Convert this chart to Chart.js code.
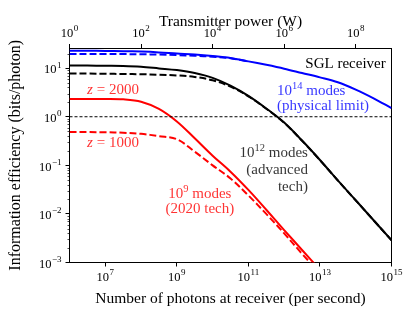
<!DOCTYPE html>
<html>
<head>
<meta charset="utf-8">
<script src="https://cdn.jsdelivr.net/npm/chart.js@4.4.1/dist/chart.umd.min.js"></script>
<style>
  html, body { margin: 0; padding: 0; background: #fff; }
  #wrap { width: 415px; height: 316px; }
</style>
</head>
<body>
<div id="wrap"><canvas id="chart"></canvas></div>
<script>
// photons per second at the receiver (half-decade steps)
const photons = [1e6, 3.16e6, 1e7, 3.16e7, 1e8, 3.16e8, 1e9, 3.16e9, 1e10, 3.16e10,
                 1e11, 3.16e11, 1e12, 3.16e12, 1e13, 3.16e13, 1e14, 3.16e14, 1e15];

// bits per photon
const blueSolid  = [22.9, 22.9, 22.6, 22.4, 21.9, 21.1, 20.0, 19.1, 17.8, 16.2,
                    13.8, 11.7, 9.77, 7.94, 6.46, 5.13, 3.63, 2.40, 1.51];
const blueDashed = [19.5, 19.5, 19.5, 19.5, 19.3, 19.1, 18.6, 18.0, 17.2, 16.0,
                    13.8, null, null, null, null, null, null, null, null];
const blackSolid = [11.3, 11.3, 11.2, 11.1, 10.7, 9.89, 9.12, 7.94, 6.31, 4.37,
                    2.69, 1.48, 0.759, 0.324, 0.129, 0.049, 0.0191, 0.00741, 0.00288];
const blackDashed = [7.73, 7.73, 7.67, 7.59, 7.5, 7.33, 7.08, 6.61, 5.62, 4.17,
                     2.63, 1.46, 0.75, 0.32, 0.128, 0.0488, 0.019, 0.0074, 0.00287];
const redSolid   = [2.32, 2.32, 2.32, 2.28, 2.04, 1.45, 0.8, 0.36, 0.158, 0.074,
                    0.0312, 0.0122, 0.00465, 0.00181, 0.000708, null, null, null, null];
const redDashed  = [0.483, 0.483, 0.479, 0.468, 0.445, 0.398, 0.345, 0.191, 0.1, 0.0537,
                    0.024, 0.01, 0.00398, 0.00151, 0.000603, null, null, null, null];

const unityLine = [1, 1];
const unityX = [1e6, 1e15];

const xTicks = [1e7, 1e9, 1e11, 1e13, 1e15];
const topTicks = [1e0, 1e2, 1e4, 1e6, 1e8];
const yTicks = [1e-3, 1e-2, 1e-1, 1e0, 1e1];

const SERIF = '"Liberation Serif", "DejaVu Serif", serif';
const RED = 'rgba(255,0,0,0.8)';
const BLUE = 'rgba(0,0,255,0.8)';
const DARK = 'rgba(0,0,0,0.8)';

function pts(values) {
  return photons.map((p, i) => ({ x: p, y: values[i] })).filter(d => d.y !== null);
}

// text notes inside the plot, positioned in data coordinates
const notes = [
  { x: 6.9e14, y: 11.9, align: 'right', color: '#000', parts: [['SGL receiver']] },
  { x: 6.3e11, y: 3.33, align: 'left', color: BLUE, parts: [['10'], ['14', 'sup'], [' modes']] },
  { x: 6.3e11, y: 1.63, align: 'left', color: BLUE, parts: [['(physical limit)']] },
  { x: 3.1e6, y: 3.61, align: 'left', color: RED, parts: [['z', 'it'], [' = 2000']] },
  { x: 3.1e6, y: 0.29, align: 'left', color: RED, parts: [['z', 'it'], [' = 1000']] },
  { x: 4.6e12, y: 0.18, align: 'right', color: DARK, parts: [['10'], ['12', 'sup'], [' modes']] },
  { x: 4.6e12, y: 0.080, align: 'right', color: DARK, parts: [['(advanced']] },
  { x: 4.6e12, y: 0.0358, align: 'right', color: DARK, parts: [['tech)']] },
  { x: 4.4e9, y: 0.0257, align: 'center', color: RED, parts: [['10'], ['9', 'sup'], [' modes']] },
  { x: 4.4e9, y: 0.0126, align: 'center', color: RED, parts: [['(2020 tech)']] },
];

function partFont(kind) {
  if (kind === 'sup') return '10.5px ' + SERIF;
  if (kind === 'it') return 'italic 15px ' + SERIF;
  return '15px ' + SERIF;
}

const notesPlugin = {
  id: 'notes',
  afterDatasetsDraw(chart) {
    const { ctx, scales } = chart;
    ctx.save();
    ctx.textBaseline = 'middle';
    ctx.textAlign = 'left';
    notes.forEach(n => {
      let w = 0;
      n.parts.forEach(p => { ctx.font = partFont(p[1]); w += ctx.measureText(p[0]).width; });
      let px = scales.x.getPixelForValue(n.x);
      const py = scales.y.getPixelForValue(n.y);
      if (n.align === 'right') px -= w;
      if (n.align === 'center') px -= w / 2;
      ctx.fillStyle = n.color;
      n.parts.forEach(p => {
        ctx.font = partFont(p[1]);
        ctx.fillText(p[0], px, p[1] === 'sup' ? py - 5 : py);
        px += ctx.measureText(p[0]).width;
      });
    });
    ctx.restore();
  }
};

// "10" with a raised exponent, like the original tick labels
const BASE_FONT = '12.5px ' + SERIF;
const EXP_FONT = '9px ' + SERIF;
function drawPow(ctx, v, x, y, align) {
  const e = String(Math.round(Math.log10(v))).replace('-', '\u2212');
  ctx.font = BASE_FONT;
  const wb = ctx.measureText('10').width;
  ctx.font = EXP_FONT;
  const we = ctx.measureText(e).width + 0.5;
  let left = x;
  if (align === 'center') left = x - (wb + we) / 2;
  if (align === 'right') left = x - (wb + we);
  ctx.font = BASE_FONT;
  ctx.fillText('10', left, y);
  ctx.font = EXP_FONT;
  ctx.fillText(e, left + wb + 0.5, y - 5);
}

const tickLabelPlugin = {
  id: 'tickLabels',
  afterDraw(chart) {
    const { ctx, chartArea, scales } = chart;
    ctx.save();
    ctx.fillStyle = '#000';
    ctx.textBaseline = 'middle';
    ctx.textAlign = 'left';
    xTicks.forEach(v => drawPow(ctx, v, scales.x.getPixelForValue(v), chartArea.bottom + 15, 'center'));
    topTicks.forEach(v => drawPow(ctx, v, scales.x2.getPixelForValue(v), chartArea.top - 14, 'center'));
    yTicks.forEach(v => drawPow(ctx, v, chartArea.left - 8, scales.y.getPixelForValue(v) + 2, 'right'));

    // minor ticks on the y axis
    ctx.strokeStyle = '#000';
    ctx.lineWidth = 0.7;
    const y = scales.y;
    for (let e = -3; e <= 1; e++) {
      for (let m = 2; m <= 9; m++) {
        const v = m * Math.pow(10, e);
        if (v > y.max) continue;
        const py = Math.round(y.getPixelForValue(v)) + 0.5;
        ctx.beginPath();
        ctx.moveTo(chartArea.left, py);
        ctx.lineTo(chartArea.left - 2, py);
        ctx.stroke();
      }
    }
    ctx.restore();
  }
};

const titleFont = { family: SERIF, size: 15.5 };
const axisGrid = { display: true, drawOnChartArea: false, drawTicks: true, tickLength: 4, color: '#000' };
const axisBorder = { display: true, color: '#000', width: 1 };
const hiddenLabels = { callback: () => '', autoSkip: false, maxRotation: 0 };

new Chart(document.getElementById('chart'), {
  type: 'line',
  data: {
    datasets: [
      { data: unityX.map((x, i) => ({ x, y: unityLine[i] })), borderColor: '#000', borderWidth: 1, borderDash: [3, 2], tension: 0 },
      { data: pts(blueSolid), borderColor: '#0000ff', borderWidth: 2 },
      { data: pts(blueDashed), borderColor: '#0000ff', borderWidth: 2, borderDash: [7, 3] },
      { data: pts(blackSolid), borderColor: '#000', borderWidth: 2 },
      { data: pts(blackDashed), borderColor: '#000', borderWidth: 2, borderDash: [7, 3] },
      { data: pts(redSolid), borderColor: '#ff0000', borderWidth: 2 },
      { data: pts(redDashed), borderColor: '#ff0000', borderWidth: 2, borderDash: [7, 3] },
    ]
  },
  options: {
    responsive: true,
    maintainAspectRatio: false,
    animation: false,
    parsing: false,
    layout: { padding: 0 },
    elements: {
      point: { radius: 0 },
      line: { tension: 0.35, fill: false }
    },
    plugins: { legend: { display: false }, tooltip: { enabled: false } },
    scales: {
      x: {
        type: 'logarithmic', position: 'bottom', min: 1e6, max: 1e15,
        afterBuildTicks: s => { s.ticks = xTicks.map(v => ({ value: v })); },
        afterFit: s => { s.height = 53.5; },
        ticks: hiddenLabels,
        grid: axisGrid, border: axisBorder,
        title: { display: true, text: 'Number of photons at receiver (per second)', font: titleFont, color: '#000', padding: { top: 2, bottom: 8 } }
      },
      x2: {
        type: 'logarithmic', position: 'top', min: 1, max: 1e9,
        afterBuildTicks: s => { s.ticks = topTicks.map(v => ({ value: v })); },
        afterFit: s => { s.height = 48; },
        ticks: hiddenLabels,
        grid: axisGrid, border: axisBorder,
        title: { display: true, text: 'Transmitter power (W)', font: titleFont, color: '#000', padding: { top: 13, bottom: 2 } }
      },
      y: {
        type: 'logarithmic', position: 'left', min: 1e-3, max: 26,
        afterBuildTicks: s => { s.ticks = yTicks.map(v => ({ value: v })); },
        afterFit: s => { s.width = 69.5; },
        ticks: hiddenLabels,
        grid: axisGrid, border: axisBorder,
        title: { display: true, text: 'Information efficiency (bits/photon)', font: { family: SERIF, size: 16 }, color: '#000', padding: { top: 6, bottom: 2 } }
      },
      y2: {
        type: 'logarithmic', position: 'right', min: 1e-3, max: 26,
        afterFit: s => { s.width = 23.5; },
        ticks: { display: false },
        grid: { display: false }, border: axisBorder
      }
    }
  },
  plugins: [notesPlugin, tickLabelPlugin]
});
</script>
</body>
</html>
